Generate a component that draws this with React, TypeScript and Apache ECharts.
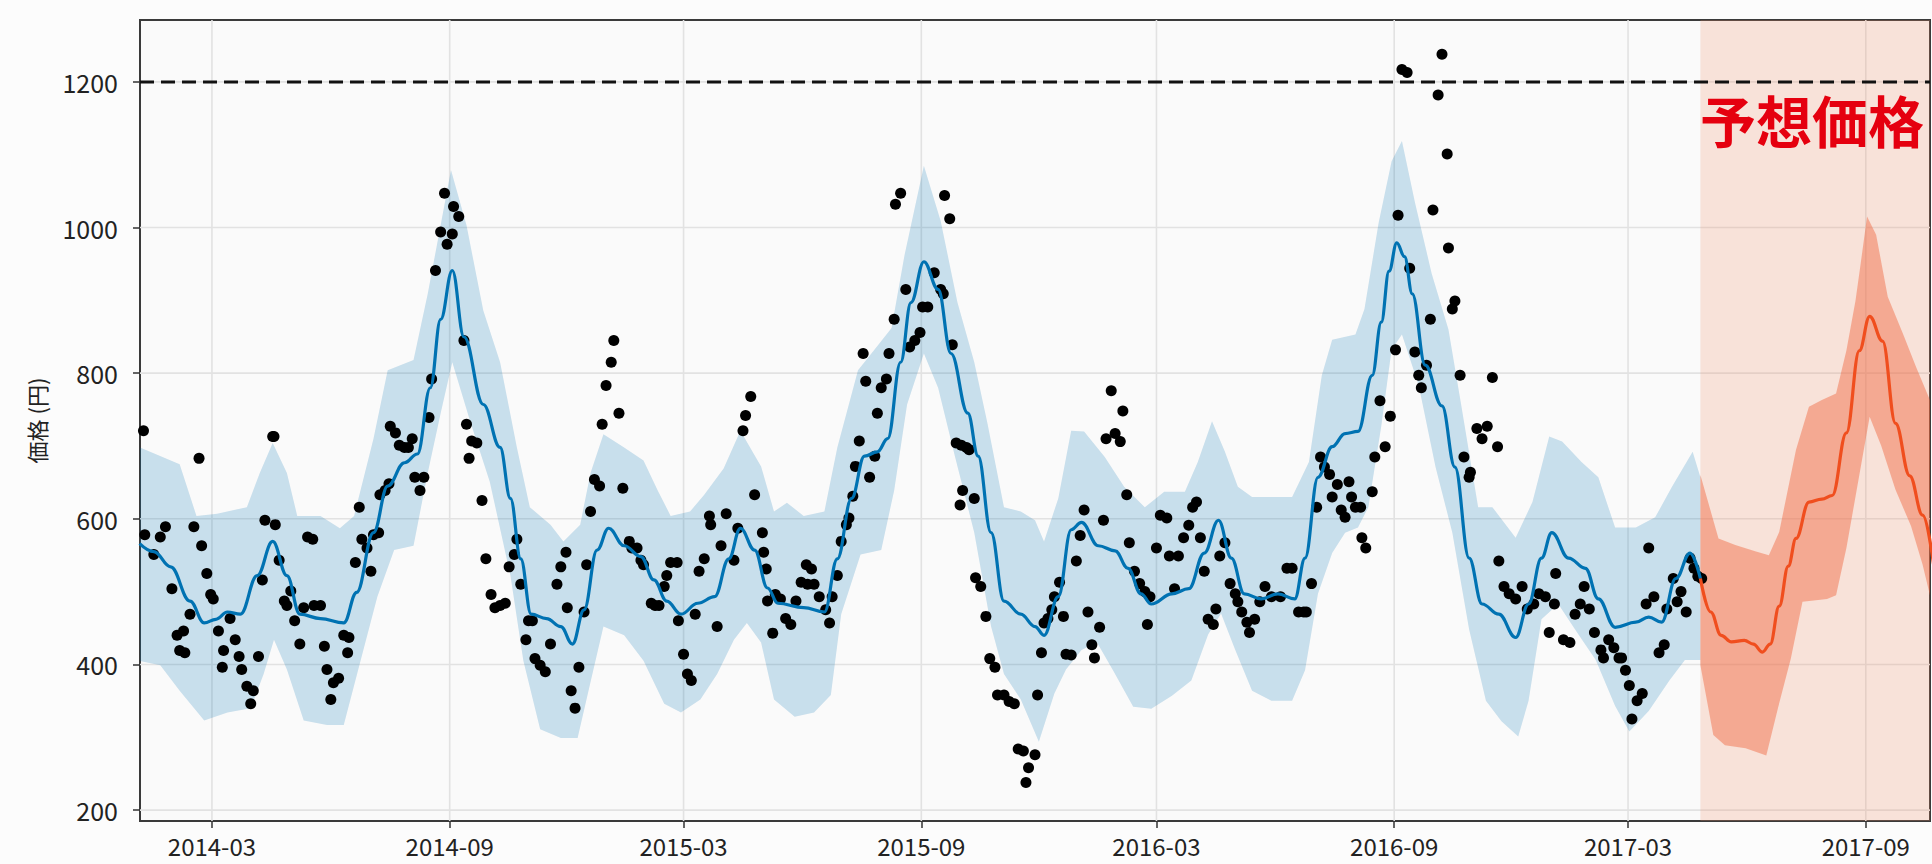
import { useEffect, useRef } from "react";
import * as echarts from "echarts";

const DAY = 86400000;
const BASE = new Date(2014, 2, 1).getTime(); // day 0 = 2014-03-01
const ts = (d: number) => BASE + d * DAY;

const X_MIN_DAY = -55.7;
const X_MAX_DAY = 1329.7;
const Y_MIN = 185;
const Y_MAX = 1285;
const FORECAST_START_DAY = 1152;
const CAP = 1200;
const FORECAST_LABEL = "予想価格";
const Y_NAME = "価格 (円)";

const xTickLabels = ["2014-03", "2014-09", "2015-03", "2015-09", "2016-03", "2016-09", "2017-03", "2017-09"];
const yTicks = [200, 400, 600, 800, 1000, 1200];

// [day offset from 2014-03-01, price]
const observed: [number, number][] = [
  [-53, 721], [-52, 578], [-45, 551], [-40, 575], [-36, 589], [-31, 504], [-27, 440], [-25, 419], [-22, 446], [-21, 416],
  [-17, 469], [-14, 589], [-10, 683], [-8, 563], [-4, 525], [-1, 496], [1, 490], [5, 446], [8, 396], [9, 419],
  [14, 463], [18, 434], [21, 411], [23, 393], [27, 370], [30, 346], [32, 364], [36, 411], [39, 516], [41, 598],
  [47, 713], [48, 713], [49, 592], [52, 543], [56, 487], [58, 481], [61, 501], [64, 460], [68, 428], [71, 478],
  [74, 575], [78, 572], [79, 481], [84, 481], [87, 425], [89, 393], [92, 352], [94, 375], [98, 381], [102, 440],
  [105, 416], [106, 437], [111, 540], [114, 616], [116, 572], [120, 560], [123, 528], [125, 578], [129, 581], [130, 633],
  [134, 639], [137, 648], [138, 727], [142, 718], [145, 701], [149, 698], [152, 698], [155, 710], [157, 657], [161, 639],
  [164, 657], [168, 739], [170, 792], [173, 941], [177, 994], [180, 1047], [182, 977], [186, 991], [187, 1029], [191, 1015],
  [195, 845], [197, 730], [199, 683], [201, 707], [205, 704], [209, 625], [212, 545], [216, 496], [219, 478], [223, 481],
  [227, 484], [230, 534], [234, 551], [236, 572], [239, 510], [243, 434], [245, 460], [248, 460], [250, 408], [254, 399],
  [258, 390], [262, 428], [267, 510], [270, 534], [274, 554], [275, 478], [278, 364], [281, 340], [284, 396], [288, 472],
  [290, 537], [293, 610], [296, 654], [300, 645], [302, 730], [305, 783], [309, 815], [311, 845], [315, 745], [318, 642],
  [323, 569], [325, 560], [329, 560], [332, 543], [334, 537], [340, 484], [343, 481], [346, 481], [350, 507], [352, 522],
  [355, 540], [360, 540], [361, 460], [365, 414], [368, 387], [371, 378], [374, 469], [377, 528], [381, 545], [385, 604],
  [386, 592], [391, 452], [394, 563], [398, 607], [404, 543], [407, 587], [411, 721], [413, 742], [417, 768], [420, 633],
  [426, 581], [427, 554], [429, 531], [430, 487], [434, 443], [436, 496], [440, 490], [444, 463], [448, 455], [452, 487],
  [456, 513], [460, 537], [461, 510], [464, 531], [466, 510], [470, 493], [475, 475], [478, 457], [480, 493], [484, 522],
  [487, 569], [491, 592], [493, 601], [496, 631], [498, 672], [501, 707], [504, 827], [506, 789], [509, 657], [513, 686],
  [515, 745], [518, 780], [522, 792], [524, 827], [528, 874], [529, 1032], [533, 1047], [537, 915], [540, 836], [544, 845],
  [548, 856], [550, 891], [554, 891], [559, 938], [564, 915], [566, 909], [567, 1044], [571, 1012], [573, 839], [576, 704],
  [579, 619], [580, 701], [581, 639], [584, 698], [586, 695], [590, 628], [591, 519], [595, 507], [599, 466], [602, 408],
  [606, 396], [608, 358], [613, 358], [617, 349], [621, 346], [624, 284], [628, 281], [630, 238], [632, 258], [637, 276],
  [639, 358], [642, 416], [644, 457], [647, 463], [650, 475], [652, 493], [656, 513], [659, 466], [661, 414],
  [665, 413], [669, 542], [672, 577], [675, 612], [678, 472], [681, 427], [683, 409], [687, 451], [690, 598], [692, 710],
  [696, 776], [699, 717], [703, 706], [705, 748], [708, 633], [710, 567], [714, 528], [718, 511], [722, 500], [724, 455],
  [726, 493], [731, 560], [734, 605], [739, 601], [741, 549], [745, 504], [748, 549], [752, 574], [756, 591], [759, 616],
  [762, 623], [765, 574], [768, 528], [771, 462], [775, 455], [777, 476], [780, 549], [784, 567], [788, 511], [792, 497],
  [794, 486], [797, 472], [801, 458], [803, 444], [807, 462], [811, 486], [815, 507], [820, 493], [827, 493], [832, 532],
  [836, 532], [841, 472], [845, 472], [847, 472], [851, 511], [855, 616], [858, 685], [861, 671], [865, 661], [867, 630],
  [871, 647], [874, 612], [877, 602], [880, 651], [882, 630], [885, 616], [889, 616], [890, 574], [893, 560], [898, 637],
  [900, 685], [904, 762], [908, 699], [912, 741], [916, 832], [918, 1017], [921, 1217], [925, 1213], [927, 944], [931, 829],
  [934, 797], [936, 780], [940, 811], [943, 874], [945, 1024], [949, 1182], [952, 1238], [956, 1101], [957, 972], [960, 888],
  [962, 899], [966, 797], [969, 685], [973, 657], [974, 664], [979, 724], [983, 710], [987, 727], [991, 794], [995, 699],
  [996, 542], [1000, 507], [1004, 497], [1009, 490], [1014, 507], [1018, 476], [1023, 483], [1027, 497], [1032, 493], [1035, 444],
  [1039, 483], [1040, 525], [1046, 434], [1051, 430], [1055, 469], [1059, 483], [1062, 507], [1066, 476], [1070, 444], [1075, 420],
  [1077, 409], [1081, 434], [1085, 423], [1089, 409], [1091, 409], [1094, 392], [1097, 371], [1099, 325], [1103, 350], [1107, 360],
  [1110, 483], [1112, 560], [1116, 493], [1120, 416], [1124, 427], [1126, 476], [1131, 518], [1134, 486], [1137, 500], [1141, 472],
  [1144, 546], [1147, 532], [1150, 521], [1153, 518],
];

const fitted: [number, number][] = [
  [-56, 566], [-45, 555], [-32, 534], [-17, 487], [-6, 457], [3, 462], [12, 472], [22, 469], [35, 522], [47, 569],
  [58, 522], [68, 469], [84, 463], [102, 457], [112, 499], [125, 581], [136, 645], [149, 677], [159, 689], [169, 780],
  [177, 874], [186, 941], [195, 850], [210, 757], [223, 698], [231, 628], [239, 545], [247, 469], [259, 463], [270, 452],
  [279, 428], [288, 475], [298, 557], [307, 587], [319, 563], [332, 548], [342, 516], [352, 487], [363, 469], [376, 484],
  [389, 493], [400, 545], [409, 587], [420, 557], [430, 505], [438, 484], [458, 478], [474, 472], [484, 545], [495, 628],
  [505, 686], [515, 692], [523, 710], [533, 815], [541, 897], [551, 953], [562, 915], [572, 827], [585, 745], [593, 686],
  [603, 581], [613, 487], [626, 469], [637, 452], [644, 440], [655, 493], [665, 585], [673, 595], [686, 563], [699, 556],
  [709, 532], [719, 497], [727, 483], [743, 497], [756, 504], [768, 553], [779, 598], [789, 546], [799, 497], [812, 490],
  [825, 497], [838, 490], [846, 546], [856, 657], [867, 699], [877, 717], [887, 720], [898, 797], [905, 870], [911, 940],
  [917, 979], [923, 960], [929, 909], [939, 811], [952, 755], [962, 671], [973, 546], [983, 483], [996, 469], [1009, 437],
  [1019, 483], [1029, 546], [1037, 581], [1050, 546], [1063, 532], [1073, 490], [1086, 451], [1102, 458], [1112, 465], [1122, 458],
  [1133, 518], [1144, 553], [1152, 518],
];

const fittedUpper: [number, number][] = [
  [-56, 698], [-25, 675], [-12, 604], [4, 607], [27, 616], [37, 663], [47, 704], [58, 663], [66, 604], [84, 604],
  [99, 587], [110, 604], [125, 710], [136, 804], [156, 818], [167, 909], [185, 1079], [197, 1003], [210, 886], [223, 815],
  [236, 698], [246, 616], [262, 592], [272, 569], [285, 592], [293, 663], [303, 716], [319, 698], [334, 680], [345, 639],
  [355, 604], [370, 610], [381, 633], [396, 669], [409, 721], [425, 672], [435, 610], [445, 622], [458, 604], [474, 610],
  [484, 698], [500, 804], [513, 833], [526, 862], [536, 962], [551, 1085], [564, 1009], [577, 897], [590, 815], [600, 733],
  [613, 616], [626, 610], [637, 598], [644, 569], [655, 628], [665, 721], [675, 720], [691, 685], [706, 644], [722, 616],
  [737, 637], [753, 637], [763, 678], [774, 734], [784, 692], [794, 644], [805, 630], [820, 630], [836, 630], [849, 678],
  [859, 797], [867, 846], [885, 853], [892, 888], [903, 1007], [913, 1091], [921, 1119], [931, 1035], [944, 937], [957, 860],
  [967, 755], [980, 616], [991, 616], [1009, 574], [1022, 623], [1035, 713], [1045, 706], [1060, 678], [1073, 657], [1086, 588],
  [1102, 588], [1117, 602], [1130, 644], [1146, 692], [1152, 657],
];

const fittedLower: [number, number][] = [
  [-56, 405], [-40, 399], [-25, 364], [-6, 323], [12, 334], [30, 340], [40, 387], [48, 434], [58, 393], [71, 323],
  [89, 317], [102, 317], [115, 405], [128, 493], [141, 557], [156, 563], [167, 663], [177, 745], [186, 815], [200, 733],
  [215, 651], [231, 522], [241, 405], [254, 311], [270, 299], [283, 299], [293, 376], [303, 452], [319, 440], [334, 405],
  [350, 346], [363, 334], [378, 352], [391, 387], [404, 434], [414, 457], [425, 430], [435, 352], [451, 328], [466, 334],
  [479, 358], [487, 469], [502, 551], [518, 557], [528, 639], [538, 757], [551, 827], [562, 780], [575, 686], [590, 581],
  [603, 452], [613, 387], [626, 352], [640, 294], [652, 360], [661, 393], [673, 420], [685, 430], [698, 390], [713, 342],
  [727, 339], [743, 357], [758, 378], [771, 441], [781, 470], [792, 420], [805, 364], [820, 350], [836, 350], [846, 392],
  [856, 497], [867, 553], [877, 581], [887, 588], [895, 616], [905, 727], [913, 832], [921, 853], [934, 783], [947, 671],
  [960, 581], [973, 448], [986, 350], [998, 322], [1011, 301], [1019, 350], [1029, 462], [1042, 483], [1055, 448], [1071, 406],
  [1086, 343], [1097, 308], [1112, 336], [1128, 378], [1140, 406], [1152, 406],
];

const forecast: [number, number][] = [
  [1152, 518], [1160, 472], [1168, 440], [1176, 431], [1186, 433], [1193, 428], [1200, 417], [1206, 428], [1213, 480], [1220, 535],
  [1226, 573], [1236, 623], [1246, 627], [1254, 632], [1265, 718], [1275, 831], [1283, 878], [1293, 844], [1303, 731], [1314, 659],
  [1324, 605], [1333, 530],
];

const forecastUpper: [number, number][] = [
  [1152, 660], [1166, 573], [1179, 564], [1195, 555], [1205, 550], [1213, 582], [1226, 695], [1236, 754], [1246, 763], [1257, 772],
  [1265, 831], [1272, 899], [1276, 950], [1281, 1015], [1288, 990], [1297, 905], [1309, 853], [1319, 808], [1333, 749],
];

const forecastLower: [number, number][] = [
  [1152, 399], [1162, 303], [1171, 289], [1187, 285], [1203, 275], [1212, 340], [1222, 408], [1231, 486], [1250, 490], [1257, 495],
  [1265, 560], [1275, 660], [1283, 740], [1292, 700], [1303, 640], [1315, 590], [1324, 537], [1333, 470],
];

const FONT = "'Noto Sans CJK JP', 'Noto Sans', sans-serif";

const xTickValues = xTickLabels.map((s) => {
  const [y, m] = s.split("-").map(Number);
  return new Date(y, m - 1, 1).getTime();
});

const toTs = (arr: [number, number][]) => arr.map(([d, v]) => [ts(d), v]);

function bandSeries(upper: [number, number][], lower: [number, number][], fill: string, z: number, anchor: [number, number]) {
  return {
    type: "custom",
    z,
    clip: true,
    silent: true,
    data: [[ts(anchor[0]), anchor[1]]],
    renderItem: (_params: any, api: any) => {
      const pts = [
        ...upper.map(([d, v]) => api.coord([ts(d), v])),
        ...lower.slice().reverse().map(([d, v]) => api.coord([ts(d), v])),
      ];
      return { type: "polygon", shape: { points: pts }, style: { fill } };
    },
  };
}

export default function App() {
  const ref = useRef<HTMLDivElement>(null);
  useEffect(() => {
    if (!ref.current) return;
    const chart = echarts.init(ref.current, undefined, { renderer: "svg" });
    const option: any = {
      animation: false,
      backgroundColor: "#fcfcfc",
      grid: {
        left: 140,
        right: 2,
        top: 20,
        bottom: 43,
        show: true,
        backgroundColor: "#fafafa",
        borderColor: "#3a3a3a",
        borderWidth: 2,
      },
      xAxis: {
        type: "value",
        min: ts(X_MIN_DAY),
        max: ts(X_MAX_DAY),
        axisLine: { show: false },
        splitLine: { show: false },
        axisTick: { show: true, customValues: xTickValues, length: 7, lineStyle: { color: "#333", width: 1.5 } },
        axisLabel: {
          customValues: xTickValues,
          margin: 11,
          fontSize: 24,
          lineHeight: 26,
          color: "#222",
          fontFamily: FONT,
          formatter: (val: number) => {
            const d = new Date(val);
            return `${d.getFullYear()}-${String(d.getMonth() + 1).padStart(2, "0")}`;
          },
        },
      },
      yAxis: {
        type: "value",
        min: Y_MIN,
        max: Y_MAX,
        name: Y_NAME,
        nameLocation: "middle",
        nameGap: 93,
        nameRotate: 90,
        nameTextStyle: { fontSize: 22, color: "#222", fontFamily: FONT },
        axisLine: { show: false },
        splitLine: { show: false },
        axisTick: { show: true, customValues: yTicks, length: 7, lineStyle: { color: "#333", width: 1.5 } },
        axisLabel: {
          customValues: yTicks,
          margin: 22,
          fontSize: 25,
          color: "#222",
          fontFamily: FONT,
          formatter: (v: number) => String(v),
        },
      },
      graphic: [
        {
          type: "text",
          left: 1700,
          top: 90,
          z: 100,
          style: { text: FORECAST_LABEL, fontSize: 56, fontWeight: "bold", fill: "#e5000f", fontFamily: FONT },
        },
      ],
      series: [
        {
          type: "custom",
          z: 1,
          silent: true,
          clip: true,
          data: [[ts(500), 500]],
          renderItem: (_p: any, api: any) => {
            const children: any[] = [];
            xTickValues.forEach((t) => {
              const a = api.coord([t, Y_MIN]);
              const b = api.coord([t, Y_MAX]);
              children.push({ type: "line", shape: { x1: a[0], y1: a[1], x2: b[0], y2: b[1] }, style: { stroke: "#e2e2e2", lineWidth: 1.6 } });
            });
            yTicks.forEach((v) => {
              const a = api.coord([ts(X_MIN_DAY), v]);
              const b = api.coord([ts(X_MAX_DAY), v]);
              children.push({ type: "line", shape: { x1: a[0], y1: a[1], x2: b[0], y2: b[1] }, style: { stroke: "#e2e2e2", lineWidth: 1.6 } });
            });
            return { type: "group", children };
          },
        },
        {
          type: "custom",
          z: 1,
          silent: true,
          clip: true,
          data: [[ts(1250), 500]],
          renderItem: (_p: any, api: any) => {
            const a = api.coord([ts(FORECAST_START_DAY), Y_MAX]);
            const b = api.coord([ts(X_MAX_DAY), Y_MIN]);
            return { type: "rect", shape: { x: a[0], y: a[1], width: b[0] - a[0], height: b[1] - a[1] }, style: { fill: "rgba(243,140,100,0.22)" } };
          },
        },
        bandSeries(fittedUpper, fittedLower, "rgba(0,114,178,0.2)", 2, [500, 500]),
        bandSeries(forecastUpper, forecastLower, "rgba(240,100,60,0.45)", 2, [1250, 500]),
        {
          type: "scatter",
          z: 3,
          silent: true,
          symbolSize: 11,
          itemStyle: { color: "#000", opacity: 1 },
          data: toTs(observed),
        },
        {
          type: "line",
          z: 4,
          silent: true,
          showSymbol: false,
          smooth: 0.4,
          smoothMonotone: "x",
          lineStyle: { color: "#0072B2", width: 3.2 },
          data: toTs(fitted),
        },
        {
          type: "line",
          z: 4,
          silent: true,
          showSymbol: false,
          smooth: 0.4,
          smoothMonotone: "x",
          lineStyle: { color: "#f04e1e", width: 3.2 },
          data: toTs(forecast),
        },
        {
          type: "custom",
          z: 6,
          silent: true,
          clip: true,
          data: [[ts(500), CAP]],
          renderItem: (_p: any, api: any) => {
            const a = api.coord([ts(X_MIN_DAY), CAP]);
            const b = api.coord([ts(X_MAX_DAY), CAP]);
            return { type: "line", shape: { x1: a[0], y1: a[1], x2: b[0], y2: b[1] }, style: { stroke: "#111", lineWidth: 3, lineDash: [14, 7] } };
          },
        },
      ],
    };
    chart.setOption(option);
    return () => chart.dispose();
  }, []);
  return (
    <div
      ref={ref}
      style={{ position: "fixed", left: 0, top: 0, width: 1932, height: 864, background: "#fcfcfc" }}
    />
  );
}
